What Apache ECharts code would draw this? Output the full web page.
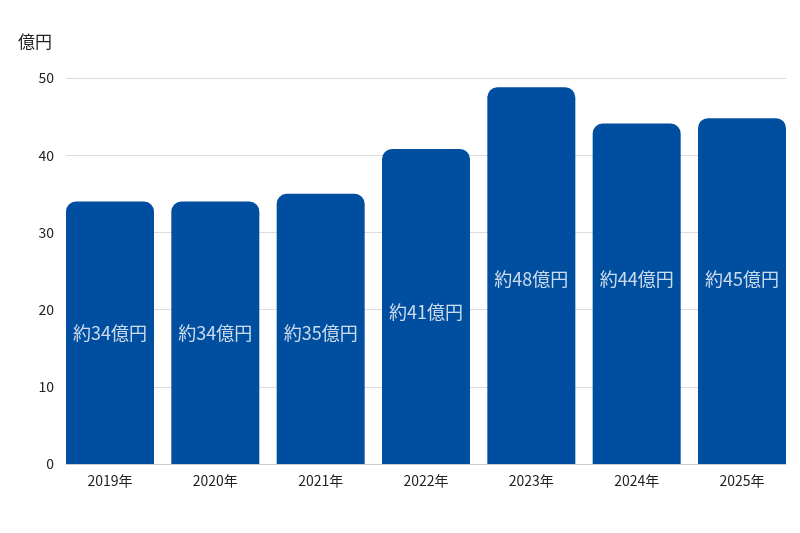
<!DOCTYPE html>
<html><head><meta charset="utf-8">
<script src="https://cdn.jsdelivr.net/npm/echarts@6/dist/echarts.min.js"></script>
<style>html,body{margin:0;padding:0;background:#fff}#c{width:800px;height:533px}</style>
</head><body><div id="c"></div>
<script>
const categories = ['2019年','2020年','2021年','2022年','2023年','2024年','2025年'];
const values = [34, 34, 35, 40.8, 48.8, 44.1, 44.8];
const labelTexts = ['約34億円','約34億円','約35億円','約41億円','約48億円','約44億円','約45億円'];
const labelLevels = [16.9, 16.9, 17.0, 19.7, 24.0, 24.0, 24.0];
const yTicks = { min: 0, max: 50, interval: 10 };

const font = '"Noto Sans CJK JP","Noto Sans",sans-serif';
const idx = categories.map((_, i) => i);
const edge = 0.4177; // half bar width as a fraction of the category pitch
const chart = echarts.init(document.getElementById('c'), null, {renderer:'canvas'});
chart.setOption({
  animation: false,
  textStyle: { fontFamily: font },
  grid: { left: 66, right: 14, top: 78, bottom: 69 },
  xAxis: {
    type: 'value', min: -edge, max: categories.length - 1 + edge,
    axisLine: { show: true, onZero: false, lineStyle: { color: '#cccccc' } },
    axisTick: { show: false },
    splitLine: { show: false },
    axisLabel: { color: '#222', fontSize: 14, margin: 10, fontFamily: font,
      customValues: idx, formatter: v => categories[Math.round(v)] }
  },
  yAxis: {
    type: 'value', min: yTicks.min, max: yTicks.max, interval: yTicks.interval,
    name: '億円', nameLocation: 'end', nameGap: 36,
    nameTextStyle: { color: '#222', fontSize: 17, align: 'right', verticalAlign: 'middle', padding: [0, 14, 0, 0], fontFamily: font },
    axisLine: { show: false, onZero: false }, axisTick: { show: false },
    axisLabel: { color: '#222', fontSize: 14, margin: 12, fontFamily: font },
    splitLine: { lineStyle: { color: '#dcdcdc' } }
  },
  series: [
    {
      type: 'bar', data: values.map((v, i) => [i, v]), barWidth: 88,
      itemStyle: { color: '#004ea0', borderRadius: [10, 10, 0, 0] },
      label: { show: false }
    },
    {
      type: 'scatter', data: labelLevels.map((v, i) => [i, v]), symbolSize: 0, silent: true,
      label: {
        show: true, position: 'inside', color: '#ffffff', fontSize: 18, fontFamily: font,
        formatter: p => labelTexts[p.dataIndex]
      }
    }
  ]
});
</script></body></html>
